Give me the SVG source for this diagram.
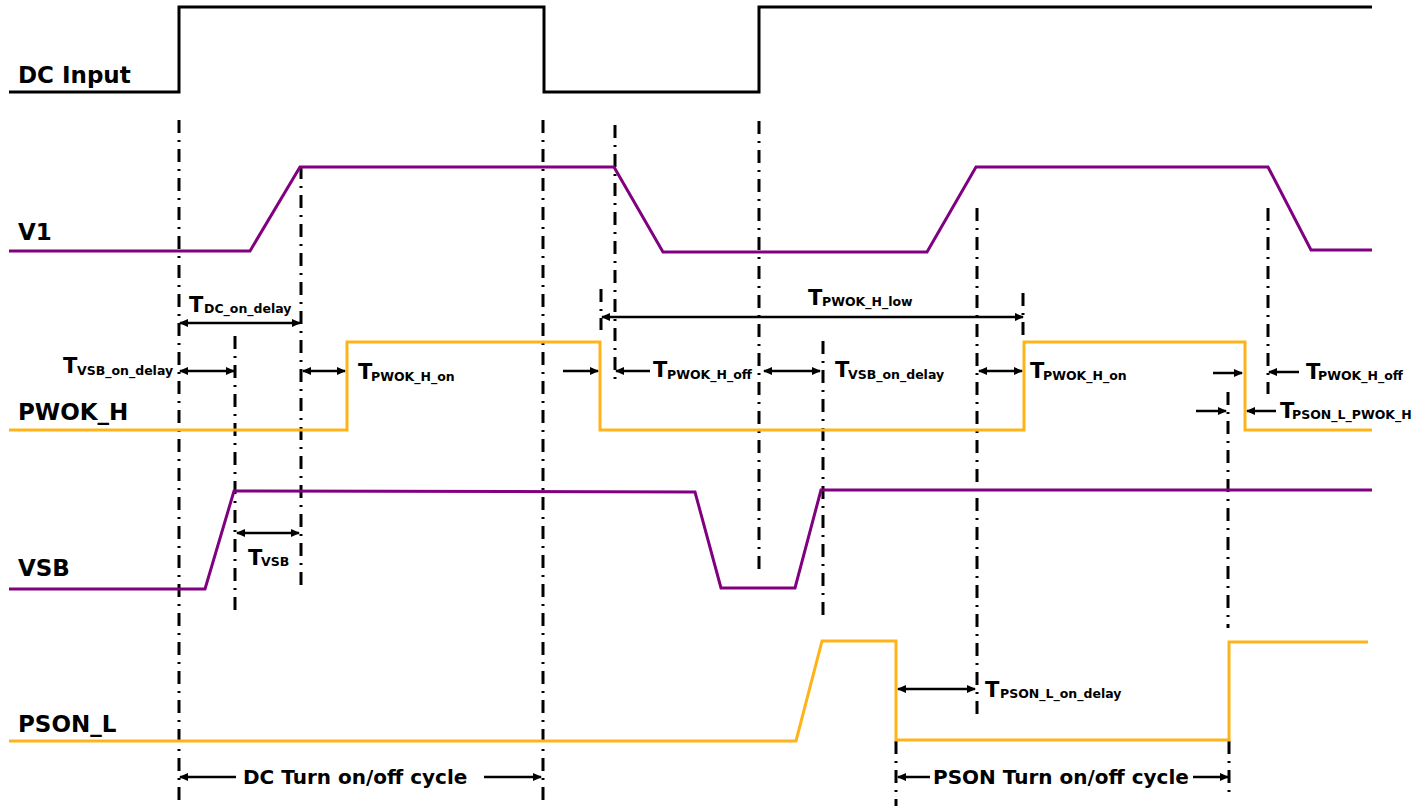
<svg xmlns="http://www.w3.org/2000/svg" width="1424" height="806" viewBox="0 0 1424 806">
<defs>
<style>
.sig{fill:none;stroke-width:3;stroke-linejoin:miter}
.k{stroke:#000}
.p{stroke:#800080}
.o{stroke:#FFB31A}
.dd{fill:none;stroke:#000;stroke-width:3;stroke-dasharray:13 7 2 7}
.ar{fill:none;stroke:#000;stroke-width:2.5}
.de{marker-end:url(#ah)}
.db{marker-start:url(#ah);marker-end:url(#ah)}
text{font-family:"DejaVu Sans","Liberation Sans",sans-serif;font-weight:bold;fill:#000}
.lbl{font-size:23px}
.T{font-size:21px}
.s{font-size:12.5px}
.cyc{font-size:20px}
</style>
<marker id="ah" markerUnits="userSpaceOnUse" markerWidth="9" markerHeight="8" refX="8" refY="4" orient="auto-start-reverse">
<path d="M0,0 L9,4 L0,8 z" fill="#000"/>
</marker>
</defs>
<rect width="1424" height="806" fill="#fff"/>

<g id="guides">
<line class="dd" x1="179" y1="120" x2="179" y2="806"/>
<line class="dd" x1="301" y1="166" x2="301" y2="590"/>
<line class="dd" x1="235" y1="336" x2="235" y2="614"/>
<line class="dd" x1="543" y1="120" x2="543" y2="806"/>
<line class="dd" x1="615" y1="125" x2="615" y2="380"/>
<line class="dd" x1="601" y1="289" x2="601" y2="330"/>
<line class="dd" x1="759" y1="121" x2="759" y2="570"/>
<line class="dd" x1="823" y1="341" x2="823" y2="622"/>
<line class="dd" x1="977" y1="208" x2="977" y2="714"/>
<line class="dd" x1="1023" y1="293" x2="1023" y2="341"/>
<line class="dd" x1="1268" y1="208" x2="1268" y2="394"/>
<line class="dd" x1="1228" y1="392" x2="1228" y2="628"/>
<line class="dd" x1="896" y1="741" x2="896" y2="806"/>
<line class="dd" x1="1229" y1="741" x2="1229" y2="792"/>
</g>

<g id="dc-input">
<polyline class="sig k" points="9,92 179,92 179,7 544,7 544,92 759,92 759,7 1372,7"/>
<text class="lbl" x="18" y="83">DC Input</text>
</g>

<g id="v1">
<polyline class="sig p" points="9,251 250,251 300,167 614,167 663,252 927,252 976,167 1268,167 1311,250 1372,250"/>
<text class="lbl" x="18" y="240">V1</text>
</g>

<g id="pwok-h">
<polyline class="sig o" points="9,430 347,430 347,342 600,342 600,430 1024,430 1024,342 1245,342 1245,430 1372,430"/>
<text class="lbl" x="18" y="420">PWOK_H</text>
</g>

<g id="vsb">
<polyline class="sig p" points="9,589 205,589 234,491 695,492 721,588 795,588 821,490 1372,490"/>
<text class="lbl" x="18" y="576">VSB</text>
</g>

<g id="pson-l">
<polyline class="sig o" points="9,741 796,741 822,641 896,641 896,740 1229,740 1229,642 1368,642"/>
<text class="lbl" x="18" y="732">PSON_L</text>
</g>

<g id="connectors">
<line class="ar db" x1="180" y1="323" x2="300" y2="323"/>
<line class="ar db" x1="180" y1="371" x2="234" y2="371"/>
<line class="ar db" x1="303" y1="371" x2="345" y2="371"/>
<line class="ar db" x1="237" y1="533" x2="299" y2="533"/>
<line class="ar db" x1="602" y1="317" x2="1023" y2="317"/>
<line class="ar de" x1="563" y1="371" x2="598" y2="371"/>
<line class="ar de" x1="650" y1="371" x2="616" y2="371"/>
<line class="ar db" x1="764" y1="371" x2="820" y2="371"/>
<line class="ar db" x1="979" y1="371" x2="1022" y2="371"/>
<line class="ar de" x1="1213" y1="373" x2="1242" y2="373"/>
<line class="ar de" x1="1299" y1="372" x2="1269" y2="372"/>
<line class="ar de" x1="1196" y1="411" x2="1226" y2="411"/>
<line class="ar de" x1="1276" y1="411" x2="1247" y2="411"/>
<line class="ar db" x1="898" y1="689" x2="975" y2="689"/>
<line class="ar de" x1="236" y1="777" x2="180" y2="777"/>
<line class="ar de" x1="484" y1="777" x2="541" y2="777"/>
<line class="ar de" x1="930" y1="777" x2="898" y2="777"/>
<line class="ar de" x1="1193" y1="777" x2="1228" y2="777"/>
</g>

<g id="labels">
<text x="189" y="312"><tspan class="T">T</tspan><tspan class="s" x="204" y="313">DC_on_delay</tspan></text>
<text x="63" y="373"><tspan class="T">T</tspan><tspan class="s" x="77" y="375">VSB_on_delay</tspan></text>
<text x="358" y="379"><tspan class="T">T</tspan><tspan class="s" x="371" y="381">PWOK_H_on</tspan></text>
<text x="248" y="565"><tspan class="T">T</tspan><tspan class="s" x="261" y="566">VSB</tspan></text>
<text x="808" y="305"><tspan class="T">T</tspan><tspan class="s" x="822" y="306">PWOK_H_low</tspan></text>
<text x="653" y="377"><tspan class="T">T</tspan><tspan class="s" x="667" y="379">PWOK_H_off</tspan></text>
<text x="835" y="377"><tspan class="T">T</tspan><tspan class="s" x="848" y="379">VSB_on_delay</tspan></text>
<text x="1030" y="378"><tspan class="T">T</tspan><tspan class="s" x="1043" y="380">PWOK_H_on</tspan></text>
<text x="1306" y="379"><tspan class="T">T</tspan><tspan class="s" x="1318" y="380">PWOK_H_off</tspan></text>
<text x="1280" y="418"><tspan class="T">T</tspan><tspan class="s" x="1292" y="419">PSON_L_PWOK_H</tspan></text>
<text x="985" y="697"><tspan class="T">T</tspan><tspan class="s" x="1000" y="698">PSON_L_on_delay</tspan></text>
<text class="cyc" x="243" y="784">DC Turn on/off cycle</text>
<text class="cyc" x="933" y="784">PSON Turn on/off cycle</text>
</g>
</svg>
